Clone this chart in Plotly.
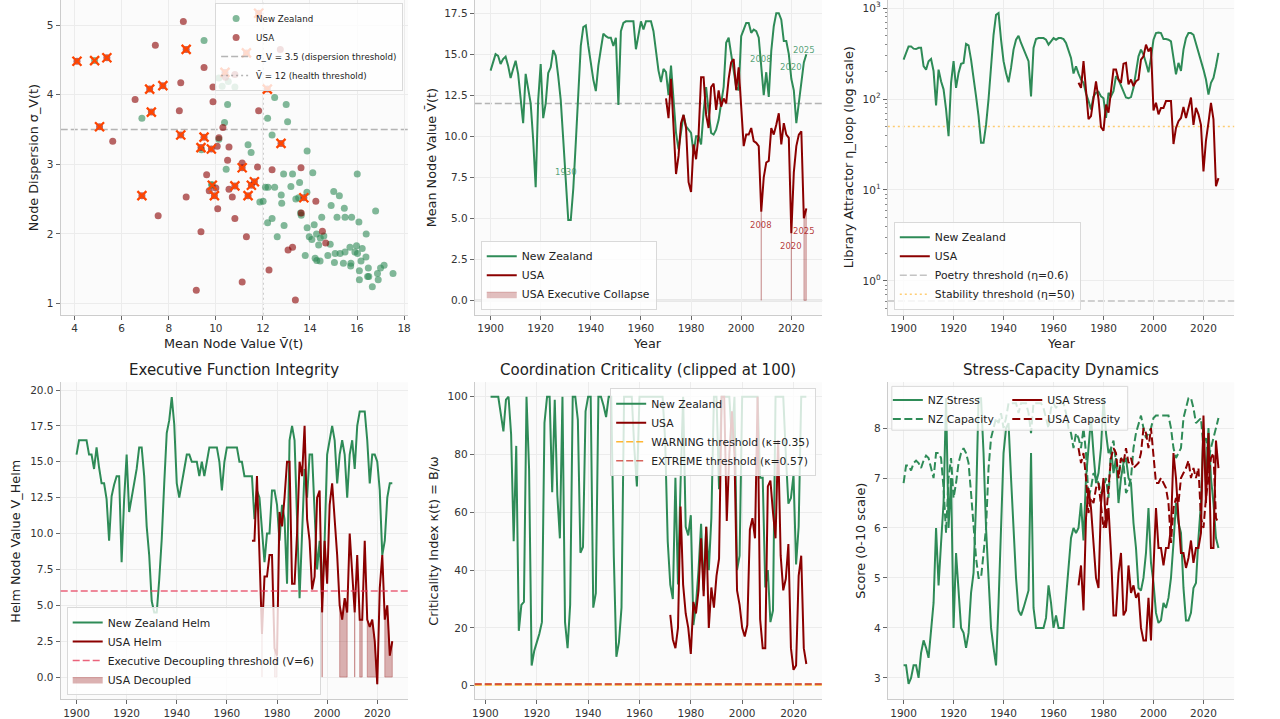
import plotly.graph_objects as go

FONT = "DejaVu Sans"
NZ_COLOR = "#2E8B57"
US_COLOR = "#8B0000"
X_COLOR = "#FF4500"

# ---------------- data ----------------
years_nz = list(range(1900, 2027))
years_us = list(range(1970, 2027))
years_crit_nz = list(range(1902, 2026))
years_crit_us = list(range(1972, 2026))

nz_mean = [
    14.0, 14.5, 15.0, 14.9, 14.4, 14.7, 14.85, 14.3, 13.55, 14.1,
    14.6, 13.8, 12.2, 10.8, 13.8, 13.0, 12.0, 9.8, 6.9, 12.2,
    14.4, 11.1, 12.0, 13.85, 14.2, 15.25, 14.9, 13.65, 12.2, 9.8,
    7.1, 4.9, 4.9, 6.8, 9.6, 12.6, 15.5, 16.65, 16.75, 15.5,
    14.3, 13.45, 12.75, 14.3, 15.3, 16.25, 16.1, 16.0, 16.0, 15.5,
    16.0, 11.9, 16.4, 16.9, 17.0, 17.0, 17.0, 17.0, 15.3, 16.3,
    17.0, 16.5, 17.0, 17.0, 17.0, 16.4, 15.0, 14.0, 13.3, 14.1,
    13.9, 12.5, 14.3, 12.0, 10.2, 9.2, 10.4, 11.3, 10.6, 10.4,
    10.2, 9.0, 10.0, 10.0, 9.5, 11.5, 13.0, 11.5, 10.2, 10.1,
    10.4, 11.0, 12.0, 13.0, 15.7, 16.0, 15.0, 14.0, 13.0, 12.8,
    16.1, 16.5, 16.9, 16.9, 16.3, 16.5, 16.4, 16.0, 14.0, 12.5,
    13.9, 12.4, 15.2, 16.7, 17.5, 17.5, 17.1, 15.8, 15.8, 15.0,
    13.5, 12.8, 10.8, 12.0, 13.5, 14.5, 15.0,
]
us_mean = [
    12.3, 11.1, 13.5, 10.5, 7.7, 8.8, 10.8, 11.3, 10.5, 7.2,
    6.6, 9.5, 8.6, 10.1, 13.6, 13.6, 11.3, 10.5, 13.0, 13.2,
    11.6, 12.8, 11.8, 12.3, 12.0, 13.5, 14.5, 14.7, 12.8, 14.2,
    12.0, 9.4, 10.1, 10.1, 10.5, 9.7, 9.6, 9.4, 5.4, 7.5,
    8.4, 8.5, 10.5, 10.1, 10.7, 11.4, 9.5, 10.8, 10.1, 9.9,
    4.1, 7.8, 9.4, 10.1, 10.3, 5.0, 5.6,
]
nz_label_years = [1930, 2008, 2020, 2025]
us_label_years = [2008, 2020, 2025]

nz_eta = [
    272, 327, 380, 380, 359, 355, 366, 366, 230, 211,
    261, 276, 204, 85, 211, 157, 128, 77, 39, 151,
    261, 133, 194, 244, 250, 404, 390, 272, 179, 107,
    65, 33, 33, 52, 100, 211, 510, 845, 882, 450,
    261, 194, 153, 220, 350, 450, 498, 414, 350, 295,
    261, 107, 366, 457, 469, 469, 469, 450, 397, 432,
    469, 450, 469, 469, 457, 414, 350, 284, 191, 230,
    191, 164, 151, 115, 96, 77, 107, 117, 120, 107,
    102, 62, 117, 107, 122, 179, 164, 139, 122, 104,
    102, 105, 133, 204, 295, 350, 309, 250, 197, 284,
    450, 532, 540, 532, 457, 457, 450, 432, 284, 187,
    250, 204, 350, 469, 532, 532, 510, 414, 335, 272,
    211, 164, 112, 151, 171, 230, 322,
]
us_eta = [
    151, 133, 261, 133, 60, 65, 107, 157, 100, 49,
    45, 87, 71, 117, 211, 211, 164, 151, 245, 250,
    145, 164, 139, 157, 164, 272, 295, 397, 335, 370,
    75, 91, 68, 80, 80, 95, 95, 95, 32, 48,
    57, 62, 82, 62, 80, 104, 52, 80, 68, 52,
    16, 35, 55, 91, 60, 11, 13.5,
]

nz_helm = [
    15.5, 16.5, 16.5, 16.5, 16.5, 15.5, 15.5, 14.5, 16.0, 14.6,
    13.5, 13.5, 12.4, 9.5, 12.6, 13.4, 14.0, 14.0, 8.0, 12.4,
    15.5, 11.5, 12.6, 13.5, 14.5, 16.0, 16.0, 14.0, 10.5, 8.5,
    5.3, 4.5, 4.5, 6.8, 9.6, 13.5, 17.0, 17.9, 19.5, 17.6,
    13.5, 12.5, 13.4, 14.5, 15.5, 15.5, 15.0, 15.0, 15.0, 14.0,
    15.0, 14.0, 15.0, 16.0, 16.0, 16.0, 16.0, 15.0, 13.0, 15.0,
    16.0, 16.0, 16.0, 16.0, 16.0, 15.0, 15.0, 14.0, 14.0, 14.0,
    14.0, 11.0, 13.0, 12.5, 10.0, 8.0, 10.0, 10.0, 13.0, 13.0,
    12.0, 9.5, 12.0, 11.0, 6.5, 16.5, 17.5, 16.5, 11.0, 5.5,
    10.0, 14.5, 12.5, 15.5, 15.5, 11.0, 7.5, 9.5, 5.5, 9.5,
    15.5, 16.5, 17.5, 16.5, 13.5, 15.5, 16.5, 15.5, 12.5, 15.5,
    16.5, 14.5, 17.5, 18.5, 18.5, 18.5, 16.5, 13.5, 15.5, 15.5,
    15.0, 13.0, 8.5, 9.5, 12.5, 13.5, 13.5,
]
us_helm = [
    9.5, 9.5, 14.0, 9.0, 3.0, 7.0, 7.0, 8.5, 8.5, 2.0,
    1.5, 11.5, 10.5, 12.5, 15.0, 15.0, 6.5, 6.5, 10.0, 15.0,
    14.0, 17.5, 11.0, 9.5, 6.1, 7.0, 12.5, 13.0, 4.5, 9.5,
    6.5, 12.0, 13.5, 11.0, 8.5, 5.0, 4.0, 5.5, 4.5, 10.0,
    7.0, 4.5, 8.5, 4.0, 4.0, 9.5, 4.0, 3.5, 4.0, 2.5,
    -0.5, 6.2, 8.5, 4.0, 5.0, 1.5, 2.5,
]

nz_crit = [
    100, 100, 100, 100, 94, 88, 99, 100, 87, 50,
    83, 19, 28, 29, 100, 75, 7, 12, 15, 18,
    22, 91, 100, 100, 67, 99, 66, 51, 100, 22,
    13, 28, 100, 100, 92, 46, 48, 95, 100, 100,
    27, 32, 100, 100, 97, 93, 100, 100, 45, 10,
    15, 27, 100,
    100, 100, 100, 82, 69, 100, 100, 100, 100, 100,
    100, 100, 100, 100, 100, 85, 50, 35, 30, 72,
    35, 70, 100, 55, 52, 59, 21, 28, 40, 56,
    33, 55, 40, 58, 100, 100, 68, 100, 100, 100,
    100, 85, 100, 40, 45, 100, 100, 100, 100, 100,
    100, 100, 72, 72, 34, 40, 22, 26, 100, 100,
    100, 100, 80, 63, 65, 73, 42, 55, 100, 100,
    100,
]
us_crit = [
    24.5, 16, 13, 20, 62, 35, 25, 20, 11, 29,
    25, 33, 51, 31, 55, 20, 34, 27, 38, 44,
    100, 100, 57, 80, 95, 80, 33, 28, 20, 17,
    21, 54, 58, 51, 100, 23, 13, 13, 69, 71,
    60, 51, 85, 45, 33, 37, 49, 13, 5.5, 7,
    38, 45, 13, 7.5,
]

nz_stress = [
    3.25, 3.25, 2.88, 3.0, 3.25, 3.25, 3.0, 3.5, 3.75, 3.6,
    3.4, 3.9, 4.5, 6.0, 4.85, 5.7, 6.5, 8.6, 6.0, 7.0,
    4.0, 5.5, 4.8, 4.0, 3.9, 3.6, 3.9, 4.7, 5.1, 6.5,
    8.6, 8.6, 7.5, 6.0, 5.0, 4.0, 3.6, 3.25, 4.5, 6.0,
    7.5, 8.0, 8.1, 7.0, 6.0, 5.0, 4.35, 4.25, 4.4, 4.6,
    4.75, 7.5, 4.4, 4.0, 4.0, 4.0, 4.0, 4.2, 4.85, 4.5,
    4.0, 4.25, 4.0, 4.0, 4.0, 4.6, 5.2, 5.8, 6.0, 5.9,
    6.0, 6.5, 5.75, 7.0, 7.6, 8.2, 7.5, 6.9, 7.1, 7.6,
    8.6, 7.9, 7.5, 7.6, 7.1, 7.4, 6.5, 7.0, 7.3, 7.4,
    7.0, 6.9, 6.1, 5.6, 4.8, 4.75, 5.0, 5.5, 6.4, 5.3,
    4.9, 4.3, 4.1, 4.15, 4.5, 4.4, 4.6, 5.0, 5.7, 6.5,
    6.1, 5.9, 4.8, 4.15, 4.15, 4.3, 4.8, 4.9, 5.8, 6.5,
    8.0, 6.9, 8.0, 7.0, 6.5, 5.8, 5.6,
]
nz_capacity = [
    6.9, 7.25, 7.25, 7.15, 7.3, 7.35, 7.3, 7.2, 7.35, 7.45,
    7.4, 7.2, 7.0, 7.5, 7.5, 7.4, 6.8, 5.9, 7.0, 7.4,
    6.6, 6.9, 7.3, 7.5, 7.6, 7.5, 7.3, 6.7, 6.0, 5.4,
    5.0, 5.0, 5.5, 6.0, 7.2, 7.8, 8.0, 8.2, 8.1, 8.3,
    8.0, 8.2, 8.5, 8.5, 8.5, 8.5, 8.3, 8.5, 8.5, 8.5,
    8.3, 7.9, 8.5, 8.5, 8.5, 8.5, 8.4, 8.2, 8.0, 8.4,
    8.5, 8.4, 8.5, 8.5, 8.5, 8.3, 8.0, 7.9, 7.6, 7.9,
    7.8, 7.6, 8.0, 7.5, 6.6, 6.8, 7.1, 7.0, 6.9, 6.7,
    6.8, 7.0, 6.6, 7.6, 7.75, 7.3, 7.0, 7.4, 7.3, 6.7,
    6.8, 7.0, 7.6, 7.9, 8.1, 8.25, 8.0, 7.8, 7.9, 8.0,
    8.2, 8.25, 8.25, 8.25, 8.25, 8.25, 8.25, 8.0, 7.6, 7.4,
    7.5, 7.6, 8.2, 8.4, 8.6, 8.6, 8.4, 8.1, 8.15, 8.2,
    7.6, 7.8, 7.4, 7.6, 7.8, 8.0, 8.2,
]
us_stress = [
    4.85, 5.25, 4.35, 6.2, 6.8, 6.4, 5.7, 5.0, 4.8, 6.5,
    7.0, 6.0, 6.4, 5.5, 4.25, 4.25, 5.1, 5.5, 4.25, 4.35,
    5.25, 4.7, 4.85, 4.6, 4.7, 4.0, 3.75, 3.75, 4.6, 3.75,
    5.2, 6.4, 5.6, 5.6, 5.25, 5.6, 5.6, 6.0, 7.5, 7.0,
    6.2, 5.5, 5.5, 5.2, 5.4, 5.75, 5.3, 5.6, 5.6, 5.9,
    8.25, 6.5, 7.9, 5.6, 5.6, 7.75, 7.2,
]
us_capacity = [
    7.6, 7.3, 7.5, 7.0, 6.3, 6.6, 6.5, 6.8, 6.9, 6.5,
    6.0, 6.2, 6.8, 7.4, 7.6, 7.5, 7.0, 7.4, 7.3, 7.6,
    7.3, 7.4, 7.2, 7.25, 7.3, 7.5, 8.0, 7.9, 7.6, 8.0,
    7.5, 6.9, 6.9, 7.0, 6.9, 6.8, 6.5, 5.7, 6.4, 6.6,
    6.5, 7.0, 7.1, 7.2, 7.35, 7.0, 7.2, 7.0, 7.2, 6.2,
    6.0, 6.6, 7.0, 7.4, 7.5, 6.2, 6.1,
]

nz_scatter = [
    (9.5, 4.78), (6.86, 3.66), (4.85, 4.49), (10.13, 4.24), (10.27, 4.12), (10.53, 4.19),
    (10.81, 4.11), (10.5, 3.86), (10.37, 3.60), (10.13, 3.36), (9.39, 3.21), (9.82, 2.71),
    (10.44, 2.93), (11.37, 3.28), (11.5, 3.17), (12.2, 3.66), (12.5, 3.96), (12.99, 3.86),
    (13.05, 3.61), (12.39, 3.42), (13.88, 3.19), (14.12, 2.88), (12.88, 2.86), (13.26, 2.86),
    (16.01, 2.86), (16.79, 2.33), (15.01, 2.61), (15.25, 2.55), (13.56, 2.74), (13.19, 2.68),
    (12.78, 2.56), (12.8, 2.44), (13.4, 2.50), (13.52, 2.52), (13.63, 2.27), (13.87, 2.60),
    (11.87, 2.46), (12.01, 2.47), (12.11, 2.67), (12.22, 2.67), (12.5, 2.67), (12.39, 2.22),
    (12.2, 2.16), (12.9, 2.12), (12.61, 1.96), (13.88, 2.09), (14.18, 2.13), (14.5, 2.24),
    (14.9, 2.41), (15.15, 2.24), (15.46, 2.37), (15.49, 2.24), (15.77, 2.24), (16.08, 2.17),
    (16.39, 2.00), (13.97, 1.96), (14.08, 1.92), (14.28, 2.00), (14.44, 1.94), (14.37, 1.84),
    (14.59, 1.97), (14.86, 1.85), (14.76, 1.69), (15.07, 1.72), (15.28, 1.72), (15.49, 1.74),
    (15.7, 1.81), (15.98, 1.83), (16.22, 1.79), (15.91, 1.74), (16.02, 1.72), (14.22, 1.65),
    (14.29, 1.62), (14.43, 1.61), (13.8, 1.69), (15.04, 1.59), (15.42, 1.58), (15.74, 1.58),
    (15.73, 1.54), (16.17, 1.61), (16.38, 1.67), (16.48, 1.51), (16.1, 1.47), (16.1, 1.34),
    (16.45, 1.39), (16.5, 1.39), (16.87, 1.43), (17.0, 1.51), (17.15, 1.55), (17.53, 1.43),
    (16.9, 1.34), (16.65, 1.24), (13.6, 2.30), (9.85, 2.70),
]
us_scatter = [
    (8.62, 5.05), (7.43, 4.71), (9.5, 4.39), (9.88, 4.11), (9.88, 3.90), (8.51, 4.17),
    (8.45, 3.77), (6.57, 3.93), (5.62, 3.33), (10.81, 4.29), (10.41, 4.25), (11.82, 3.77),
    (10.3, 3.53), (10.13, 3.38), (10.56, 3.25), (10.06, 3.26), (10.5, 3.06), (9.61, 2.85),
    (11.77, 2.96), (11.12, 3.02), (12.39, 2.92), (13.62, 2.95), (10.0, 2.66), (9.72, 2.62),
    (10.56, 2.64), (10.7, 2.53), (8.74, 2.53), (10.08, 2.36), (7.55, 2.26), (10.81, 2.22),
    (9.37, 2.03), (11.3, 1.96), (14.25, 2.47), (13.63, 2.30), (14.53, 2.04), (14.67, 1.87),
    (13.26, 1.81), (13.07, 1.77), (12.26, 1.48), (11.12, 1.31), (9.17, 1.19), (13.38, 1.05),
    (12.74, 4.65),
    (4.1, 4.48), (5.37, 4.53), (5.06, 3.54), (7.19, 4.08), (7.75, 4.13), (7.26, 3.75),
    (6.86, 2.55), (8.74, 4.65), (8.51, 3.42), (9.5, 3.39), (9.37, 3.24), (9.81, 3.22),
    (9.94, 2.55), (10.39, 4.32), (11.3, 4.6), (11.82, 5.17), (12.19, 4.08), (12.77, 3.30),
    (11.12, 2.95), (10.81, 2.69), (11.51, 2.70), (11.64, 2.75), (11.37, 2.55), (13.74, 2.52),
]
collapse_scatter = [
    (4.1, 4.48), (4.85, 4.49), (5.37, 4.53), (5.06, 3.54), (7.19, 4.08), (7.75, 4.13),
    (7.26, 3.75), (6.86, 2.55), (8.74, 4.65), (8.51, 3.42), (9.5, 3.39), (9.37, 3.24),
    (9.81, 3.22), (9.85, 2.70), (9.94, 2.55), (10.39, 4.32), (11.3, 4.6), (11.82, 5.17),
    (12.19, 4.08), (12.77, 3.30), (11.12, 2.95), (10.81, 2.69), (11.51, 2.70), (11.64, 2.75),
    (11.37, 2.55), (13.74, 2.52),
]

# thresholds
SIGMA_THR = 3.5
HEALTH_THR = 12
COLLAPSE_THR = 6
POETRY_THR = 0.6
STABILITY_THR = 50
DECOUPLE_THR = 6
WARN_THR = 0.35
EXTREME_THR = 0.57

# ---------------- layout geometry ----------------
W, H = 1280, 719
COLS = [(58, 407), (474, 823), (889, 1237)]
ROWS = [(0, 316), (384, 702)]


def dom_x(c):
    return [COLS[c][0] / W, COLS[c][1] / W]


def dom_y(r):
    return [1 - ROWS[r][1] / H, 1 - ROWS[r][0] / H]


def px(x):
    return x / W


def py(y):
    return 1 - y / H


TICKFONT = dict(family=FONT, size=10.5, color="#333333")
base_axis = dict(
    showline=True, linecolor="#cccccc", linewidth=1.2, mirror=False,
    ticks="outside", ticklen=4, tickwidth=1, tickcolor="#666666",
    showgrid=True, gridcolor="#ececec", gridwidth=0.8, zeroline=False,
    tickfont=TICKFONT,
)

YEAR_RANGE = [1893.7, 2032.3]
CRIT_YEAR_RANGE = [1895.85, 2031.15]

fig = go.Figure()

axes_spec = {
    1: dict(col=0, row=0, xr=[3.41, 18.17], yr=[0.84, 5.36], xdt=2, ydt=1, yfmt=None),
    2: dict(col=1, row=0, xr=YEAR_RANGE, yr=[-0.87, 18.3], xdt=20, ydt=2.5, yfmt=".1f"),
    3: dict(col=2, row=0, xr=YEAR_RANGE, yr=None, xdt=20, ydt=None, yfmt=None),
    4: dict(col=0, row=1, xr=YEAR_RANGE, yr=[-1.53, 20.53], xdt=20, ydt=2.5, yfmt=".1f"),
    5: dict(col=1, row=1, xr=CRIT_YEAR_RANGE, yr=[-4.63, 104.98], xdt=20, ydt=20, yfmt=None),
    6: dict(col=2, row=1, xr=YEAR_RANGE, yr=[2.575, 8.915], xdt=20, ydt=1, yfmt=None),
}

layout_axes = {}
for i, s in axes_spec.items():
    xname = "xaxis" if i == 1 else f"xaxis{i}"
    yname = "yaxis" if i == 1 else f"yaxis{i}"
    xa = dict(base_axis, domain=dom_x(s["col"]), range=s["xr"], anchor="y" if i == 1 else f"y{i}",
              dtick=s["xdt"], tick0=1900 if s["xdt"] == 20 else 0)
    ya = dict(base_axis, domain=dom_y(s["row"]), anchor="x" if i == 1 else f"x{i}")
    if i == 3:
        ya.update(type="log", range=[-0.372, 3.09], tickvals=[1, 10, 100, 1000],
                  ticktext=["10<sup>0</sup>", "10<sup>1</sup>", "10<sup>2</sup>", "10<sup>3</sup>"],
                  minor=dict(ticks="outside", ticklen=2, tickcolor="#888888", showgrid=False,
                             tickvals=[m * 10 ** e for e in range(-1, 3) for m in range(2, 10)]))
    else:
        ya.update(range=s["yr"], dtick=s["ydt"])
        if s["yfmt"]:
            ya["tickformat"] = s["yfmt"]
    layout_axes[xname] = xa
    layout_axes[yname] = ya


def ax_ids(i):
    return ("x", "y") if i == 1 else (f"x{i}", f"y{i}")


def legend_id(i):
    return "legend" if i == 1 else f"legend{i}"


def line_trace(i, x, y, name, color, width=2, dash=None, show=True, leg=None):
    xa, ya = ax_ids(i)
    return go.Scatter(x=x, y=y, mode="lines", name=name, xaxis=xa, yaxis=ya,
                      line=dict(color=color, width=width, dash=dash),
                      legend=leg or legend_id(i), showlegend=show, hoverinfo="skip")


def legend_only(i, name, color, dash, width=1.5):
    xa, ya = ax_ids(i)
    return go.Scatter(x=[None], y=[None], mode="lines", name=name, xaxis=xa, yaxis=ya,
                      line=dict(color=color, width=width, dash=dash), legend=legend_id(i))


def below_polygon(xs, vs, thr):
    px_, py_ = [], []
    i, n = 0, len(xs)
    while i < n:
        if vs[i] < thr:
            j = i
            while j + 1 < n and vs[j + 1] < thr:
                j += 1
            sx = list(xs[i:j + 1])
            sy = list(vs[i:j + 1])
            px_ += sx + sx[::-1] + [sx[0], None]
            py_ += sy + [0] * len(sx) + [sy[0], None]
            i = j + 1
        else:
            i += 1
    return px_, py_


shapes = []


def hline(i, y, color, dash, width=1.5, layer="above"):
    xa, ya = ax_ids(i)
    shapes.append(dict(type="line", xref=f"{xa} domain", x0=0, x1=1, yref=ya, y0=y, y1=y,
                       line=dict(color=color, width=width, dash=dash), layer=layer))


def vline(i, x, color, dash, width=1.5, layer="above"):
    xa, ya = ax_ids(i)
    shapes.append(dict(type="line", xref=xa, x0=x, x1=x, yref=f"{ya} domain", y0=0, y1=1,
                       line=dict(color=color, width=width, dash=dash), layer=layer))


GRAY_DASH = "rgba(150,150,150,0.7)"
DASH = "7px,3px"
DOT = "2px,3px"

# ---------------- Panel 1: scatter ----------------
fig.add_trace(go.Scatter(x=[p[0] for p in nz_scatter], y=[p[1] for p in nz_scatter], mode="markers",
                         name="New Zealand", marker=dict(color=NZ_COLOR, size=7, opacity=0.6),
                         xaxis="x", yaxis="y", legend="legend", hoverinfo="skip"))
fig.add_trace(go.Scatter(x=[p[0] for p in us_scatter], y=[p[1] for p in us_scatter], mode="markers",
                         name="USA", marker=dict(color=US_COLOR, size=7, opacity=0.6),
                         xaxis="x", yaxis="y", legend="legend", hoverinfo="skip"))
fig.add_trace(go.Scatter(x=[p[0] for p in collapse_scatter], y=[p[1] for p in collapse_scatter],
                         mode="markers", showlegend=False,
                         marker=dict(symbol="x-thin", size=9, color=X_COLOR,
                                     line=dict(color=X_COLOR, width=2.3)),
                         xaxis="x", yaxis="y", hoverinfo="skip"))
fig.add_trace(legend_only(1, "σ_V = 3.5 (dispersion threshold)", GRAY_DASH, DASH))
fig.add_trace(legend_only(1, "V̄ = 12 (health threshold)", GRAY_DASH, DOT))
hline(1, SIGMA_THR, GRAY_DASH, DASH, layer="below")
vline(1, HEALTH_THR, GRAY_DASH, DOT, layer="below")

# ---------------- Panel 2: mean node value ----------------
hline(2, 0, "rgba(128,128,128,0.6)", "solid", width=1.5, layer="below")
hline(2, HEALTH_THR, GRAY_DASH, DASH, layer="below")
fig.add_trace(line_trace(2, years_nz, nz_mean, "New Zealand", NZ_COLOR))
fig.add_trace(line_trace(2, years_us, us_mean, "USA", US_COLOR))
cx, cy = below_polygon(years_us, us_mean, COLLAPSE_THR)
fig.add_trace(go.Scatter(x=cx, y=cy, mode="lines", fill="toself", fillcolor="rgba(139,0,0,0.25)",
                         line=dict(color="rgba(139,0,0,0.25)", width=1), name="USA Executive Collapse",
                         xaxis="x2", yaxis="y2", legend="legend2", hoverinfo="skip"))

annotations = []
for yr in nz_label_years:
    annotations.append(dict(x=yr, y=nz_mean[years_nz.index(yr)], xref="x2", yref="y2", text=str(yr),
                            showarrow=False, yshift=12, font=dict(family=FONT, size=8.5,
                                                                  color="rgba(46,139,87,0.8)")))
for yr in us_label_years:
    annotations.append(dict(x=yr, y=us_mean[years_us.index(yr)], xref="x2", yref="y2", text=str(yr),
                            showarrow=False, yshift=-13, font=dict(family=FONT, size=8.5,
                                                                   color="rgba(170,20,20,0.85)")))

# ---------------- Panel 3: library attractor (log) ----------------
hline(3, POETRY_THR, "rgba(180,180,180,0.8)", DASH, layer="below")
hline(3, STABILITY_THR, "rgba(255,165,0,0.55)", DOT, layer="below")
fig.add_trace(line_trace(3, years_nz, nz_eta, "New Zealand", NZ_COLOR))
fig.add_trace(line_trace(3, years_us, us_eta, "USA", US_COLOR))
fig.add_trace(legend_only(3, "Poetry threshold (η=0.6)", "rgba(180,180,180,0.8)", DASH))
fig.add_trace(legend_only(3, "Stability threshold (η=50)", "rgba(255,165,0,0.55)", DOT))

# ---------------- Panel 4: helm ----------------
fig.add_trace(line_trace(4, years_nz, nz_helm, "New Zealand Helm", NZ_COLOR))
fig.add_trace(line_trace(4, years_us, us_helm, "USA Helm", US_COLOR))
fig.add_trace(legend_only(4, "Executive Decoupling threshold (V=6)", "rgba(230,60,90,0.8)", DASH))
dx, dy = below_polygon(years_us, us_helm, DECOUPLE_THR)
fig.add_trace(go.Scatter(x=dx, y=dy, mode="lines", fill="toself", fillcolor="rgba(139,0,0,0.3)",
                         line=dict(color="rgba(139,0,0,0.3)", width=1), name="USA Decoupled",
                         xaxis="x4", yaxis="y4", legend="legend4", hoverinfo="skip"))
hline(4, DECOUPLE_THR, "rgba(230,60,90,0.8)", DASH, layer="above")

# ---------------- Panel 5: criticality ----------------
fig.add_trace(line_trace(5, years_crit_nz, nz_crit, "New Zealand", NZ_COLOR))
fig.add_trace(line_trace(5, years_crit_us, us_crit, "USA", US_COLOR))
fig.add_trace(legend_only(5, "WARNING threshold (κ=0.35)", "rgba(255,165,0,0.8)", DASH))
fig.add_trace(legend_only(5, "EXTREME threshold (κ=0.57)", "rgba(205,60,50,0.8)", DASH))
hline(5, WARN_THR, "rgba(255,165,0,0.8)", DASH, width=2)
hline(5, EXTREME_THR, "rgba(205,60,50,0.8)", DASH, width=2)

# ---------------- Panel 6: stress / capacity ----------------
fig.add_trace(line_trace(6, years_nz, nz_stress, "NZ Stress", NZ_COLOR, width=2, leg="legend6"))
fig.add_trace(line_trace(6, years_nz, nz_capacity, "NZ Capacity", NZ_COLOR, width=2, dash="8px,3.5px",
                         leg="legend6"))
fig.add_trace(line_trace(6, years_us, us_stress, "USA Stress", US_COLOR, width=2, leg="legend7"))
fig.add_trace(line_trace(6, years_us, us_capacity, "USA Capacity", US_COLOR, width=2, dash="8px,3.5px",
                         leg="legend7"))
# combined box for the two-column legend
shapes.append(dict(type="rect", xref="paper", yref="paper", x0=px(893), x1=px(1130), y0=py(432), y1=py(388),
                   fillcolor="rgba(255,255,255,0.8)", line=dict(color="#d9d9d9", width=1), layer="above"))

# ---------------- text: titles & axis labels ----------------
def text_ann(x, y, text, size, angle=0):
    annotations.append(dict(x=px(x), y=py(y), xref="paper", yref="paper", text=text, showarrow=False,
                            textangle=angle, xanchor="center", yanchor="middle",
                            font=dict(family=FONT, size=size, color="#222222")))


text_ann(232, 372, "Executive Function Integrity", 15)
text_ann(648, 372, "Coordination Criticality (clipped at 100)", 15)
text_ann(1063, 372, "Stress-Capacity Dynamics", 15)

text_ann(232, 345, "Mean Node Value V̄(t)", 12.8)
text_ann(648, 345, "Year", 12.8)
text_ann(1063, 345, "Year", 12.8)

text_ann(30, 158, "Node Dispersion σ_V(t)", 12.8, -90)
text_ann(430, 158, "Mean Node Value V̄(t)", 12.8, -90)
text_ann(849, 158, "Library Attractor η_loop (log scale)", 12.8, -90)
text_ann(13, 543, "Helm Node Value V_Helm", 12.8, -90)
text_ann(433, 543, "Criticality Index κ(t) = B/ω", 12.8, -90)
text_ann(862, 543, "Score (0-10 scale)", 12.8, -90)

# ---------------- legends ----------------
LEG_BOX = dict(bgcolor="rgba(255,255,255,0.8)", bordercolor="#d9d9d9", borderwidth=1)
legends = {
    "legend": dict(LEG_BOX, x=px(402), y=py(3), xanchor="right", yanchor="top",
                   font=dict(family=FONT, size=8.7, color="#222222")),
    "legend2": dict(LEG_BOX, x=px(480), y=py(311), xanchor="left", yanchor="bottom",
                    font=dict(family=FONT, size=10.8, color="#222222")),
    "legend3": dict(LEG_BOX, x=px(895), y=py(311), xanchor="left", yanchor="bottom",
                    font=dict(family=FONT, size=10.8, color="#222222")),
    "legend4": dict(LEG_BOX, x=px(64), y=py(698), xanchor="left", yanchor="bottom",
                    font=dict(family=FONT, size=10.8, color="#222222")),
    "legend5": dict(LEG_BOX, x=px(817), y=py(390), xanchor="right", yanchor="top",
                    font=dict(family=FONT, size=10.8, color="#222222")),
    "legend6": dict(bgcolor="rgba(0,0,0,0)", borderwidth=0, x=px(889), y=py(387), xanchor="left",
                    yanchor="top", font=dict(family=FONT, size=10.8, color="#222222")),
    "legend7": dict(bgcolor="rgba(0,0,0,0)", borderwidth=0, x=px(1009), y=py(387), xanchor="left",
                    yanchor="top", font=dict(family=FONT, size=10.8, color="#222222")),
}

fig.update_layout(
    width=W, height=H, margin=dict(l=0, r=0, t=0, b=0),
    paper_bgcolor="white", plot_bgcolor="#fbfbfb",
    font=dict(family=FONT, color="#222222"),
    shapes=shapes, annotations=annotations,
    **layout_axes, **legends,
)

fig.write_html("out.html")
